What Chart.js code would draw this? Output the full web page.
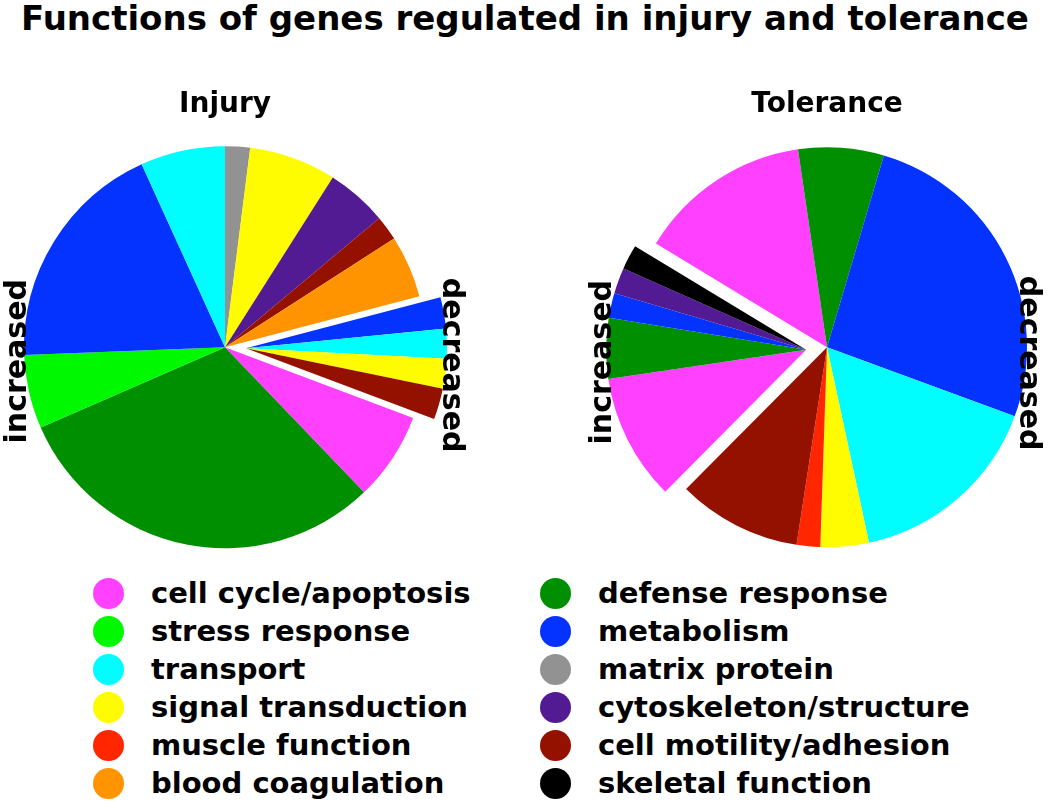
<!DOCTYPE html>
<html>
<head>
<meta charset="utf-8">
<script src="https://cdn.jsdelivr.net/npm/chart.js@4.4.0/dist/chart.umd.min.js"></script>
<style>
  body { margin: 0; background: #fff; }
  #page { position: relative; width: 1050px; height: 801px; overflow: hidden;
          font-family: "DejaVu Sans", sans-serif; font-weight: bold; color: #000; }
  #title { position: absolute; left: 0; top: 1px; width: 1050px; text-align: center;
           font-size: 34px; line-height: 1; white-space: nowrap; }
  #injury { position: absolute; left: 0; top: 70px; }
  #tolerance { position: absolute; left: 570px; top: 70px; }
  .legend { position: absolute; top: 574px; }
  .item { height: 38px; display: flex; align-items: center; font-size: 29px; white-space: nowrap; }
  .dot { width: 31px; height: 31px; border-radius: 50%; margin-right: 27px; flex: none; }
</style>
</head>
<body>
<div id="page">
  <div id="title">Functions of genes regulated in injury and tolerance</div>
  <canvas id="injury" width="480" height="498"></canvas>
  <canvas id="tolerance" width="480" height="498"></canvas>
  <div class="legend" id="legendLeft" style="left:93px"></div>
  <div class="legend" id="legendRight" style="left:540px"></div>
</div>
<script>
// categories (legend order) and their colours
const categories = ['cell cycle/apoptosis', 'stress response', 'transport', 'signal transduction',
  'muscle function', 'blood coagulation', 'defense response', 'metabolism', 'matrix protein',
  'cytoskeleton/structure', 'cell motility/adhesion', 'skeletal function'];
const categoryColors = ['#FF40FF', '#00F900', '#00FDFF', '#FFFB00', '#FF2600', '#FF9300',
  '#008F00', '#0433FF', '#929292', '#531B93', '#941100', '#000000'];

// Injury pie, clockwise from 12 o'clock (% of genes)
const injurySlices = ['matrix protein', 'signal transduction', 'cytoskeleton/structure', 'cell motility/adhesion',
  'blood coagulation', 'metabolism', 'transport', 'signal transduction', 'cell motility/adhesion',
  'cell cycle/apoptosis', 'defense response', 'stress response', 'metabolism', 'transport'];
const injuryValues = [2.0, 7.0, 4.9, 2.0, 5.0, 2.5, 2.4, 2.4, 2.5, 7.1, 30.6, 5.9, 18.8, 6.8];
const injuryRegulation = ['inc', 'inc', 'inc', 'inc', 'inc', 'dec', 'dec', 'dec', 'dec',
  'inc', 'inc', 'inc', 'inc', 'inc'];

// Tolerance pie, clockwise from the start of the decreased group
const toleranceSlices = ['cell cycle/apoptosis', 'defense response', 'metabolism', 'transport',
  'signal transduction', 'muscle function', 'cell motility/adhesion',
  'cell cycle/apoptosis', 'defense response', 'metabolism', 'cytoskeleton/structure', 'skeletal function'];
const toleranceValues = [14.0, 6.9, 26.0, 16.0, 3.9, 1.9, 10.0, 10.2, 4.9, 2.0, 2.1, 2.0];
const toleranceRegulation = ['dec', 'dec', 'dec', 'dec', 'dec', 'dec', 'dec',
  'inc', 'inc', 'inc', 'inc', 'inc'];

const regulationText = { inc: 'increased', dec: 'decreased' };

function colorOf(name) {
  return categoryColors[categories.indexOf(name)];
}

// pull a group of slices out together, along the middle of the group
const explodeGroup = {
  id: 'explodeGroup',
  afterDatasetsUpdate(chart, args, opts) {
    const meta = chart.getDatasetMeta(0);
    const arcs = meta.data.filter((a, i) => opts.regulation[i] === opts.group);
    if (!arcs.length) return;
    const mid = (arcs[0].startAngle + arcs[arcs.length - 1].endAngle) / 2;
    arcs.forEach(a => {
      a.x += Math.cos(mid) * opts.distance;
      a.y += Math.sin(mid) * opts.distance;
    });
  }
};

// rotated "increased" / "decreased" beside the pie
const sideLabels = {
  id: 'sideLabels',
  afterDatasetsDraw(chart, args, opts) {
    const ca = chart.chartArea;
    const cx = (ca.left + ca.right) / 2;
    const cy = (ca.top + ca.bottom) / 2;
    const ctx = chart.ctx;
    opts.items.forEach(it => {
      ctx.save();
      ctx.translate(cx + it.dx, cy + it.dy);
      ctx.rotate(it.angle * Math.PI / 180);
      ctx.font = 'bold 30px "DejaVu Sans"';
      ctx.fillStyle = '#000';
      ctx.textAlign = 'center';
      ctx.textBaseline = 'middle';
      ctx.fillText(regulationText[it.group], 0, 0);
      ctx.restore();
    });
  }
};

function makePie(id, title, slices, values, regulation, opts) {
  return new Chart(document.getElementById(id), {
    type: 'pie',
    data: {
      labels: slices,
      datasets: [{
        data: values,
        backgroundColor: slices.map(colorOf),
        borderWidth: 0,
        radius: opts.radius,
        clip: false
      }]
    },
    options: {
      responsive: false,
      animation: false,
      rotation: opts.rotation,
      layout: { padding: opts.padding },
      plugins: {
        legend: { display: false },
        tooltip: { enabled: false },
        title: {
          display: true,
          text: title,
          color: '#000',
          font: { family: 'DejaVu Sans', size: 28, weight: 'bold' },
          padding: { top: 18, bottom: 4.8 }
        },
        explodeGroup: { regulation: regulation, group: opts.exploded, distance: 21 },
        sideLabels: { items: opts.labels }
      }
    },
    plugins: [explodeGroup, sideLabels]
  });
}

makePie('injury', 'Injury', injurySlices, injuryValues, injuryRegulation, {
  radius: 201, rotation: 0, padding: { left: 0, right: 30, top: 0, bottom: 0 }, exploded: 'dec',
  labels: [{ group: 'inc', dx: -207, dy: 14, angle: -90 }, { group: 'dec', dx: 226, dy: 18, angle: 90 }]
});
makePie('tolerance', 'Tolerance', toleranceSlices, toleranceValues, toleranceRegulation, {
  radius: 200, rotation: -58.8, padding: { left: 34, right: 0, top: 0, bottom: 0 }, exploded: 'inc',
  labels: [{ group: 'inc', dx: -224, dy: 15, angle: -90 }, { group: 'dec', dx: 201, dy: 16, angle: 90 }]
});

// legend, two columns of six
categories.forEach((name, i) => {
  const col = document.getElementById(i < 6 ? 'legendLeft' : 'legendRight');
  const row = document.createElement('div');
  row.className = 'item';
  const dot = document.createElement('span');
  dot.className = 'dot';
  dot.style.background = categoryColors[i];
  row.appendChild(dot);
  row.appendChild(document.createTextNode(name));
  col.appendChild(row);
});
</script>
</body>
</html>
